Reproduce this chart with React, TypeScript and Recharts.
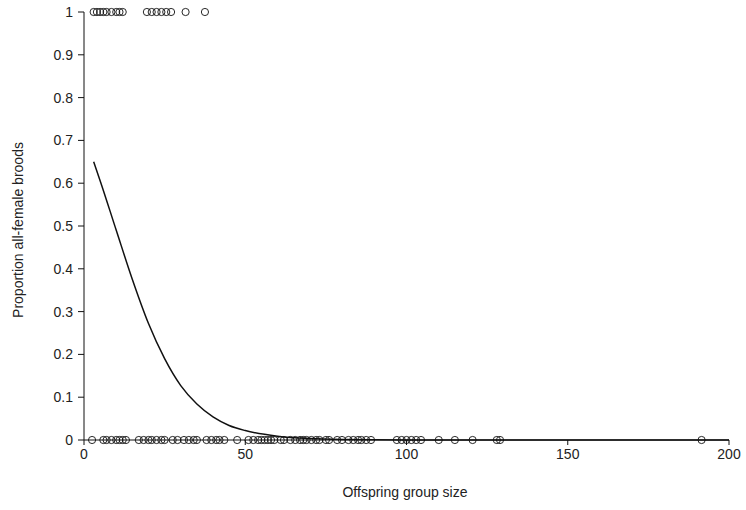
import React from 'react';
import { ComposedChart, Scatter, Line, XAxis, YAxis, Label } from 'recharts';

const femaleSizes: number[] = [3, 4, 5, 6, 7, 8.5, 10, 11, 12, 19.5, 21, 22.5, 24, 25.5, 27, 31.5, 37.5];
const otherSizes: number[] = [
  2.5, 6, 7, 8.5, 10, 11, 12, 13,
  17, 18.5, 20, 21, 22.5, 24, 25,
  27.5, 29, 31, 32.5, 34, 35,
  38, 39.5, 41, 42, 43.5, 47.5,
  51, 52.5, 54, 55, 56, 57, 58, 59, 61, 62,
  64, 65.5, 67, 68, 69, 70.5, 72, 73, 75, 76,
  78.5, 80, 82, 83.5, 85, 86, 87.5, 89,
  97, 98.5, 100, 101.5, 103, 104.5, 110, 115, 120.5, 128, 129, 191.5,
];
const curveX: number[] = [3, 5, 10, 15, 20, 25, 30, 35, 40, 45, 50, 60, 70, 80, 100, 150, 200];
const curveY: number[] = [0.65, 0.606, 0.49, 0.375, 0.272, 0.19, 0.127, 0.084, 0.054, 0.034, 0.022, 0.009, 0.0034, 0.0013, 0.0002, 0, 0];
const xTicks: number[] = [0, 50, 100, 150, 200];
const yTicks: number[] = [0, 0.1, 0.2, 0.3, 0.4, 0.5, 0.6, 0.7, 0.8, 0.9, 1];

const topPoints = femaleSizes.map((x) => ({ x, y: 1 }));
const bottomPoints = otherSizes.map((x) => ({ x, y: 0 }));
const curve = curveX.map((x, i) => ({ x, y: curveY[i] }));

const Ring = (props: any) => (
  <circle cx={props.cx} cy={props.cy} r={3.6} fill="none" stroke="#111" strokeWidth={0.9} />
);

const font = 'Liberation Sans, Arial, sans-serif';

export default function App() {
  return (
    <div style={{ position: 'absolute', left: 0, top: 0, background: '#fff' }}>
      <ComposedChart width={746} height={510} margin={{ top: 12, right: 17, bottom: 30, left: 24 }}>
        <XAxis
          type="number"
          dataKey="x"
          domain={[0, 200]}
          ticks={xTicks}
          allowDataOverflow
          height={40}
          tickSize={5}
          tickMargin={4}
          stroke="#111"
          tick={{ fill: '#222', fontSize: 14, fontFamily: font }}
        >
          <Label
            content={() => (
              <text x={405} y={497} textAnchor="middle" fill="#222" fontSize={14} fontFamily={font}>
                Offspring group size
              </text>
            )}
          />
        </XAxis>
        <YAxis
          type="number"
          dataKey="y"
          domain={[0, 1]}
          ticks={yTicks}
          width={60}
          tickSize={6}
          tickMargin={5}
          stroke="#111"
          tick={{ fill: '#222', fontSize: 14, fontFamily: font }}
        >
          <Label
            content={() => (
              <text
                x={23}
                y={230}
                transform="rotate(-90 23 230)"
                textAnchor="middle"
                fill="#222"
                fontSize={14}
                fontFamily={font}
              >
                Proportion all-female broods
              </text>
            )}
          />
        </YAxis>
        <Line
          data={curve}
          dataKey="y"
          type="monotone"
          stroke="#111"
          strokeWidth={1.5}
          dot={false}
          isAnimationActive={false}
        />
        <Scatter data={topPoints} dataKey="y" shape={Ring} isAnimationActive={false} />
        <Scatter data={bottomPoints} dataKey="y" shape={Ring} isAnimationActive={false} />
      </ComposedChart>
    </div>
  );
}
